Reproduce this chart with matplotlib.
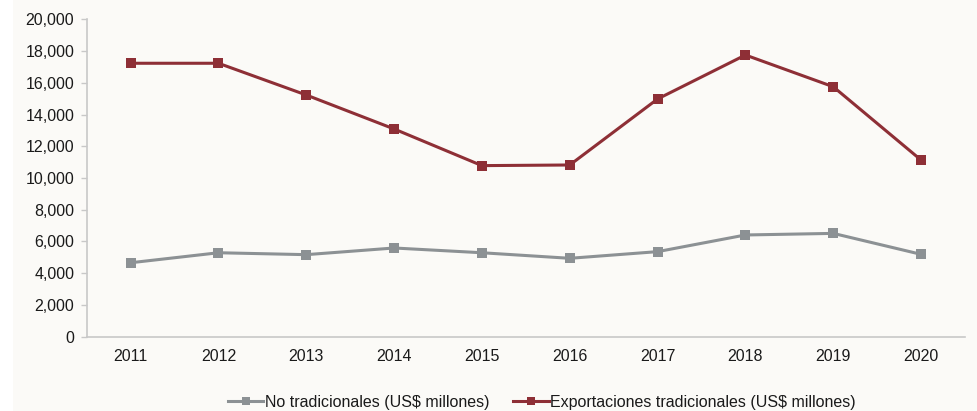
import matplotlib
matplotlib.use("Agg")
import matplotlib.pyplot as plt
from matplotlib.patches import Rectangle
from matplotlib.ticker import FuncFormatter, MultipleLocator

years = ["2011", "2012", "2013", "2014", "2015", "2016", "2017", "2018", "2019", "2020"]
no_tradicionales = [4660, 5290, 5170, 5590, 5290, 4940, 5360, 6410, 6510, 5190]
tradicionales = [17230, 17230, 15230, 13090, 10780, 10820, 14980, 17750, 15750, 11130]
label_nt = "No tradicionales (US$ millones)"
label_t = "Exportaciones tradicionales (US$ millones)"

plt.rcParams['font.family'] = ['Liberation Sans', 'DejaVu Sans']

W, H = 977, 411
fig = plt.figure(figsize=(W / 100, H / 100), dpi=100)
fig.patch.set_facecolor('white')
bg = '#FBFAF7'
fig.patches.append(Rectangle((13 / W, 0), 1 - 13 / W, 1, transform=fig.transFigure,
                             facecolor=bg, edgecolor='none', zorder=-10))

left, right = 86.7 / W, 965 / W
bottom, top = 1 - 336.7 / H, 1 - 19.3 / H
ax = fig.add_axes([left, bottom, right - left, top - bottom])
ax.set_facecolor(bg)

x = list(range(len(years)))
grey = '#8C9194'
red = '#8E2F36'
ax.plot(x, no_tradicionales, color=grey, lw=2.2, marker='s', ms=6.5,
        markeredgewidth=0, label=label_nt, zorder=3)
ax.plot(x, tradicionales, color=red, lw=2.2, marker='s', ms=6.5,
        markeredgewidth=0, label=label_t, zorder=3)

ax.set_xlim(-0.5, len(years) - 0.5)
ax.set_ylim(0, 20000)
ax.set_xticks(x)
ax.set_xticklabels(years)
ax.yaxis.set_major_locator(MultipleLocator(2000))
ax.yaxis.set_major_formatter(FuncFormatter(lambda v, p: f"{int(v):,}"))

for s in ['top', 'right']:
    ax.spines[s].set_visible(False)
for s in ['left', 'bottom']:
    ax.spines[s].set_color('#C8C8C8')
    ax.spines[s].set_linewidth(1.2)

ax.tick_params(axis='y', length=4, width=1, color='#C8C8C8', labelsize=11.5,
               labelcolor='#1a1a1a', pad=5)
ax.tick_params(axis='x', length=0, labelsize=11.5, labelcolor='#1a1a1a', pad=9)

leg = fig.legend(loc='center', bbox_to_anchor=(542 / W, 1 - 402 / H), ncol=2,
                 frameon=False, fontsize=11.5, handlelength=2.2, handletextpad=0.1,
                 columnspacing=1.5, markerscale=0.85)
for t in leg.get_texts():
    t.set_color('#1a1a1a')

fig.savefig('out.png', dpi=100, facecolor=fig.get_facecolor())
